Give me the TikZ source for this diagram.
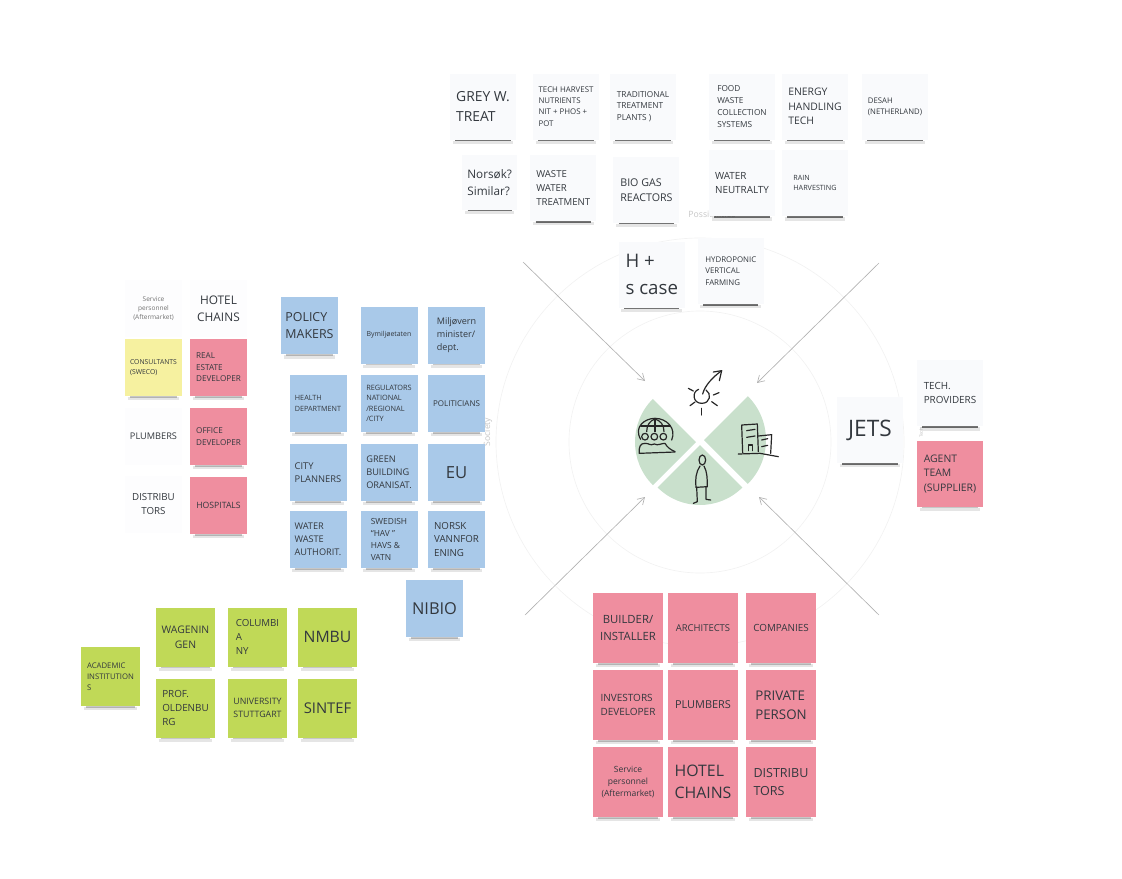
\documentclass[tikz,border=0pt]{standalone}
\usepackage{fontspec}
\setmainfont{Open Sans}
\usepackage{tikz}
\usetikzlibrary{positioning,arrows.meta}
\definecolor{notewhite}{HTML}{F9FAFC}
\definecolor{noteblue}{HTML}{A9C9E9}
\definecolor{notepink}{HTML}{EF8E9F}
\definecolor{notegreen}{HTML}{C0D957}
\definecolor{noteyellow}{HTML}{F6F1A0}
\definecolor{hubgreen}{HTML}{C9E0CC}
\definecolor{notetext}{HTML}{33383E}
\tikzstyle{arrow} = [-{Straight Barb[length=5pt,width=6pt]}, gray!60, line width=0.5pt]
\tikzstyle{ring} = [gray!10, line width=0.5pt]
\tikzstyle{icon} = [black!85, line width=0.9pt, line cap=round, line join=round]
\tikzstyle{faint} = [gray!45]
\tikzset{
  fs/.style={font=\fontsize{#1}{\fpeval{#1*1.42}}\selectfont},
  note/.style={outer sep=0pt, inner sep=0pt, align=left, text=notetext, minimum width=#1, minimum height=#1},
  shadowlines/.style={append after command={
    ([xshift=2pt,yshift=-2pt]\tikzlastnode.south west) edge[black, opacity=0.1, line width=2.5pt] ([xshift=-2pt,yshift=-2pt]\tikzlastnode.south east)
    ([xshift=4pt,yshift=-0.7pt]\tikzlastnode.south west) edge[black, opacity=#1, line width=1pt] ([xshift=-4pt,yshift=-0.7pt]\tikzlastnode.south east)}},
  whitenote/.style={note=49.5pt, fill=notewhite, shadowlines=0.55},
  plainnote/.style={note=42.75pt, fill=notewhite!40, align=center},
  bluenote/.style={note=42.75pt, fill=noteblue, shadowlines=0.22},
  redsmall/.style={note=42.75pt, fill=notepink, shadowlines=0.22},
  rednote/.style={note=52.5pt, fill=notepink, shadowlines=0.22},
  greennote/.style={note=44.25pt, fill=notegreen, shadowlines=0.22},
}
\begin{document}
\begin{tikzpicture}[x=0.75pt,y=-0.75pt]
    \useasboundingbox (0,0) rectangle (1122,879);

    % rings and labels behind the notes
    \coordinate (hub) at (700,442);
    \draw[ring] (hub) circle (204);
    \draw[ring] (hub) circle (131);
    \node[faint, fs=6.5] (possi) at (712,214) {Possibilities};
    \node[faint, fs=6.5, rotate=90] (society) at (488,432) {Society};
    \node[faint, fs=3.5, rotate=90] (techlabel) at (921,433) {Tech};

    % top notes
    \node[whitenote, fs=10.4] (greyw) at (483,106.5) {GREY W.\\TREAT};
    \node[whitenote, fs=5.9, right=12.75pt of greyw] (harvest) {TECH HARVEST\\NUTRIENTS\\NIT + PHOS +\\POT};
    \node[whitenote, fs=6.2, right=8.25pt of harvest] (tradit) {TRADITIONAL\\TREATMENT\\PLANTS )};
    \node[whitenote, fs=6.2, right=24.75pt of tradit] (food) {FOOD\\WASTE\\COLLECTION\\SYSTEMS};
    \node[whitenote, fs=7.8, right=5.25pt of food] (energy) {ENERGY\\HANDLING\\TECH};
    \node[whitenote, fs=5.8, right=10.5pt of energy] (desah) {DESAH\\(NETHERLAND)};
    \node[note=41pt, fill=notewhite, shadowlines=0.55, fs=8.8, below=11.6pt of greyw, xshift=5pt] (norsok) {Norsøk?\\Similar?};
    \node[whitenote, fs=7.2, below=11.6pt of harvest, xshift=-2pt] (waste) {WASTE\\WATER\\TREATMENT};
    \node[whitenote, fs=8, below=13pt of tradit, xshift=2.6pt] (biogas) {BIO GAS\\REACTORS};
    \node[whitenote, fs=7.4, below=8pt of food] (neutral) {WATER\\NEUTRALTY};
    \node[whitenote, fs=5.4, below=8pt of energy] (rain) {RAIN\\HARVESTING};
    \node[whitenote, fs=14, below=14pt of biogas, xshift=4pt] (hplus) {H +\\s case};
    \node[whitenote, fs=5.9, right=9.75pt of hplus, yshift=2.6pt] (hydro) {HYDROPONIC\\VERTICAL\\FARMING};

    % left notes
    \node[redsmall, fs=6.1] (real) at (218.5,367.5) {REAL\\ESTATE\\DEVELOPER};
    \node[redsmall, fs=6.1, below=9pt of real] (office) {OFFICE\\DEVELOPER};
    \node[redsmall, fs=6.5, below=9pt of office] (hospitals) {HOSPITALS};
    \node[note=42.75pt, fill=noteyellow, shadowlines=0.22, fs=5.1, left=6pt of real] (consult) {CONSULTANTS\\(SWECO)};
    \node[plainnote, fs=6.9, left=6pt of office] (plumb) {PLUMBERS};
    \node[plainnote, fs=7.3, left=6pt of hospitals, yshift=1pt] (distrib) {DISTRIBU\\TORS};
    \node[plainnote, fs=8.9, above=1.5pt of real] (hotel) {HOTEL\\CHAINS};
    \node[plainnote, fs=4.9, left=6pt of hotel, text=black!55] (service) {Service\\personnel\\(Aftermarket)};

    % blue notes
    \node[bluenote, fs=5.2] (bymil) at (389,335) {Bymiljøetaten};
    \node[bluenote, fs=6.8, right=7.9pt of bymil] (miljo) {Miljøvern\\minister/\\dept.};
    \node[bluenote, fs=9.3, left=16.9pt of bymil, yshift=7pt] (policy) {POLICY\\MAKERS};
    \node[bluenote, fs=5.5, below=8.6pt of bymil] (regul) {REGULATORS\\NATIONAL\\/REGIONAL\\/CITY};
    \node[bluenote, fs=6, below=8.6pt of miljo] (politic) {POLITICIANS};
    \node[bluenote, fs=5.4, left=10.5pt of regul] (health) {HEALTH\\DEPARTMENT};
    \node[bluenote, fs=6.9, below=9pt of regul] (green) {GREEN\\BUILDING\\ORANISAT.};
    \node[bluenote, fs=12.5, below=9pt of politic] (eu) {EU};
    \node[bluenote, fs=7, left=10.5pt of green] (city) {CITY\\PLANNERS};
    \node[bluenote, fs=6.3, below=7.5pt of green] (swedish) {SWEDISH\\``HAV ''\\HAVS \&\\VATN};
    \node[bluenote, fs=7.3, below=7.5pt of eu] (norsk) {NORSK\\VANNFOR\\ENING};
    \node[bluenote, fs=6.9, left=10.5pt of swedish] (authority) {WATER\\WASTE\\AUTHORIT.};
    \node[bluenote, fs=12.3, below=9pt of norsk, xshift=-16.5pt] (nibio) {NIBIO};

    % green notes
    \node[greennote, fs=11.8] (nmbu) at (327.5,637) {NMBU};
    \node[greennote, fs=11.1, below=9pt of nmbu] (sintef) {SINTEF};
    \node[greennote, fs=7.3, left=8.25pt of nmbu] (columbia) {COLUMBI\\A\\NY};
    \node[greennote, fs=7.8, left=9.75pt of columbia, align=center] (wagen) {WAGENIN\\GEN};
    \node[greennote, fs=7.4, below=9pt of wagen] (oldenb) {PROF.\\OLDENBU\\RG};
    \node[greennote, fs=6.6, below=9pt of columbia] (stutt) {UNIVERSITY\\STUTTGART};
    \node[greennote, fs=5.8, left=12pt of wagen, yshift=-29.6pt] (academic) {ACADEMIC\\INSTITUTION\\S};

    % red notes
    \node[rednote, fs=8.5, align=center] (builder) at (628,628) {BUILDER/\\INSTALLER};
    \node[rednote, fs=7.1, right=3.75pt of builder] (archit) {ARCHITECTS};
    \node[rednote, fs=7.4, right=6pt of archit] (compan) {COMPANIES};
    \node[rednote, fs=7.5, below=5.25pt of builder] (invest) {INVESTORS\\DEVELOPER};
    \node[rednote, fs=8.2, below=5.25pt of archit] (plumbers) {PLUMBERS};
    \node[rednote, fs=10, below=5.25pt of compan] (private) {PRIVATE\\PERSON};
    \node[rednote, fs=6.4, align=center, below=5.25pt of invest] (aftermkt) {Service\\personnel\\(Aftermarket)};
    \node[rednote, fs=11.9, below=5.25pt of plumbers] (chains) {HOTEL\\CHAINS};
    \node[rednote, fs=9.4, below=5.25pt of private] (distr) {DISTRIBU\\TORS};

    % right notes
    \node[whitenote, fs=17] (jets) at (870,430) {JETS};
    \node[whitenote, fs=7.4, right=10.5pt of jets, yshift=27.6pt] (techprov) {TECH.\\PROVIDERS};
    \node[note=49.5pt, fill=notepink, shadowlines=0.22, fs=7.8, below=11pt of techprov] (agent) {AGENT\\TEAM\\(SUPPLIER)};

    % arrows
    \coordinate (nwa) at (523,262);
    \coordinate (nwb) at (645,381);
    \coordinate (nea) at (879,263);
    \coordinate (neb) at (757,383);
    \coordinate (swa) at (525,615);
    \coordinate (swb) at (645,497);
    \coordinate (sea) at (879,615);
    \coordinate (seb) at (759,497);
    \draw[arrow] (nwa) -- (nwb);
    \draw[arrow] (nea) -- (neb);
    \draw[arrow] (swa) -- (swb);
    \draw[arrow] (sea) -- (seb);

    % hub
    \fill[hubgreen] (696,442) -- ++(135:61) arc (135:225:61) -- cycle;
    \fill[hubgreen] (704,440) -- ++(-45:62) arc (-45:45:62) -- cycle;
    \fill[hubgreen] (700,445) -- ++(45:60) arc (45:135:60) -- cycle;

    % icons, in the crop's own units
    \begin{scope}[shift={(620,360)},x=0.25pt,y=-0.25pt]
        % sun
        \draw[icon] (236,88) .. controls (215,95) and (218,130) .. (245,130) .. controls (272,130) and (275,100) .. (258,90);
        \draw[icon] (205,85) -- (220,93);
        \draw[icon] (210,137) -- (225,126);
        \draw[icon] (245,145) -- (245,165);
        \draw[icon] (275,125) -- (292,137);
        \draw[icon] (280,105) -- (297,98);
        \draw[icon] (248,102) .. controls (255,75) and (280,50) .. (305,32);
        \draw[icon] (280,36) -- (305,32) -- (298,62);
        % globe and people
        \draw[icon] (62,238) .. controls (40,200) and (75,175) .. (105,175) .. controls (140,175) and (170,205) .. (155,240);
        \draw[icon] (105,175) -- (105,215);
        \draw[icon] (80,215) .. controls (80,195) and (90,182) .. (105,177) .. controls (122,182) and (132,195) .. (132,215);
        \draw[icon] (62,198) -- (150,198);
        \draw[icon] (75,230) circle (10);
        \draw[icon] (103,230) circle (10);
        \draw[icon] (130,230) circle (10);
        \draw[icon] (58,280) .. controls (56,258) and (62,250) .. (75,250) .. controls (90,250) and (88,258) .. (103,252) .. controls (115,258) and (122,250) .. (135,250) .. controls (142,262) and (150,268) .. (165,275);
        \draw[icon] (58,280) -- (165,276);
        % buildings
        \draw[icon] (368,278) -- (365,195) -- (412,192) -- (415,275);
        \draw[icon] (415,228) -- (455,224) -- (452,280);
        \draw[icon] (355,282) -- (420,280) -- (475,290);
        \draw[icon] (380,212) -- (405,208);
        \draw[icon] (380,232) -- (405,228);
        \draw[icon] (386,272) -- (386,255) -- (398,255) -- (398,272);
        \draw[icon] (425,240) -- (443,236);
        \draw[icon] (425,260) -- (443,256);
        % person
        \draw[icon] (247,300) ellipse (10 and 15);
        \draw[icon] (240,318) .. controls (228,335) and (225,360) .. (228,382);
        \draw[icon] (252,318) .. controls (262,335) and (262,360) .. (262,380);
        \draw[icon] (228,382) -- (262,380);
        \draw[icon] (230,382) -- (232,425) -- (220,430);
        \draw[icon] (258,380) -- (258,418) -- (272,420);
    \end{scope}
\end{tikzpicture}
\end{document}
